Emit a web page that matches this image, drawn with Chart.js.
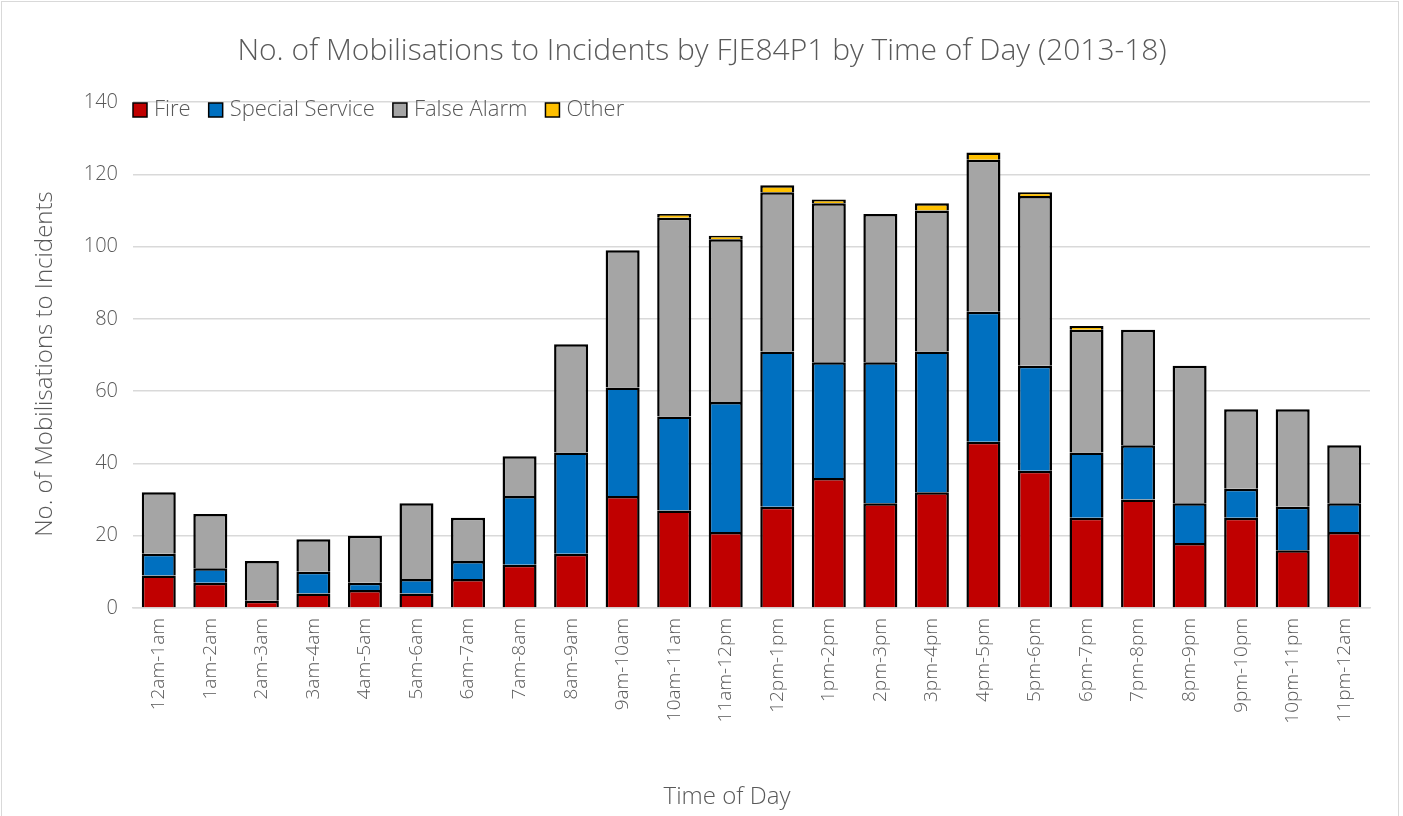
<!DOCTYPE html>
<html>
<head>
<meta charset="utf-8">
<script src="https://cdn.jsdelivr.net/npm/chart.js@4/dist/chart.umd.min.js"></script>
<style>
  html, body { margin: 0; padding: 0; background: #fff; }
  #wrap { width: 1403px; height: 816px; }
</style>
</head>
<body>
<div id="wrap"><canvas id="mobChart"></canvas></div>
<script>
// time bands along the x axis
var hours = ['12am-1am', '1am-2am', '2am-3am', '3am-4am', '4am-5am', '5am-6am', '6am-7am', '7am-8am',
  '8am-9am', '9am-10am', '10am-11am', '11am-12pm', '12pm-1pm', '1pm-2pm', '2pm-3pm', '3pm-4pm',
  '4pm-5pm', '5pm-6pm', '6pm-7pm', '7pm-8pm', '8pm-9pm', '9pm-10pm', '10pm-11pm', '11pm-12am'];

var fire =           [9, 7, 2, 4, 5, 4, 8, 12, 15, 31, 27, 21, 28, 36, 29, 32, 46, 38, 25, 30, 18, 25, 16, 21];
var specialService = [6, 4, 0, 6, 2, 4, 5, 19, 28, 30, 26, 36, 43, 32, 39, 39, 36, 29, 18, 15, 11, 8, 12, 8];
var falseAlarm =     [17, 15, 11, 9, 13, 21, 12, 11, 30, 38, 55, 45, 44, 44, 41, 39, 42, 47, 34, 32, 38, 22, 27, 16];
var other =          [0, 0, 0, 0, 0, 0, 0, 0, 0, 0, 1, 1, 2, 1, 0, 2, 2, 1, 1, 0, 0, 0, 0, 0];

var yTicks = [0, 20, 40, 60, 80, 100, 120, 140];

var chartTitle = 'No. of Mobilisations to Incidents by FJE84P1 by Time of Day (2013-18)';
var xTitle = 'Time of Day';
var yTitle = 'No. of Mobilisations to Incidents';

var grey = '#595959';
var fontName = '"Open Sans", "Noto Sans", sans-serif';

function ds(label, data, colour) {
  return {
    label: label,
    data: data,
    backgroundColor: colour,
    borderColor: '#000000',
    borderWidth: 2.5,
    barPercentage: 0.66,
    categoryPercentage: 1
  };
}

// legend sits inside the plot, like the spreadsheet one
var insideLegend = {
  id: 'insideLegend',
  afterDraw: function(chart) {
    var ctx = chart.ctx;
    var x = chart.chartArea.left;
    var y = 110;
    ctx.save();
    ctx.font = '300 22px ' + fontName;
    ctx.textBaseline = 'middle';
    chart.data.datasets.forEach(function(d) {
      ctx.fillStyle = d.backgroundColor;
      ctx.fillRect(x, y - 7, 14, 14);
      ctx.strokeStyle = '#000';
      ctx.lineWidth = 1.5;
      ctx.strokeRect(x, y - 7, 14, 14);
      ctx.fillStyle = grey;
      ctx.fillText(d.label, x + 21, y);
      x += 21 + ctx.measureText(d.label).width + 18;
    });
    ctx.restore();
  }
};

// titles, placed where the original has them
var titles = {
  id: 'titles',
  afterDraw: function(chart) {
    var ctx = chart.ctx;
    ctx.save();
    ctx.fillStyle = grey;
    ctx.textAlign = 'center';
    ctx.textBaseline = 'middle';
    ctx.font = '300 30px ' + fontName;
    ctx.fillText(chartTitle, 702, 51);
    ctx.font = '300 24px ' + fontName;
    ctx.fillText(xTitle, 727, 797);
    ctx.translate(45, 364);
    ctx.rotate(-Math.PI / 2);
    ctx.fillText(yTitle, 0, 0);
    ctx.restore();
  }
};

var frame = {
  id: 'frame',
  beforeDraw: function(chart) {
    var ctx = chart.ctx;
    ctx.save();
    ctx.fillStyle = '#fff';
    ctx.fillRect(0, 0, chart.width, chart.height);
    ctx.strokeStyle = '#d9d9d9';
    ctx.lineWidth = 1;
    ctx.strokeRect(1.5, 1.5, 1397, 840);
    ctx.restore();
  }
};

var ctx = document.getElementById('mobChart').getContext('2d');
var mobChart = new Chart(ctx, {
  type: 'bar',
  data: {
    labels: hours,
    datasets: [
      ds('Fire', fire, '#C00000'),
      ds('Special Service', specialService, '#0070C0'),
      ds('False Alarm', falseAlarm, '#A5A5A5'),
      ds('Other', other, '#FFC000')
    ]
  },
  plugins: [frame, insideLegend, titles],
  options: {
    responsive: true,
    maintainAspectRatio: false,
    animation: false,
    layout: { padding: { left: 2, right: 33, top: 102, bottom: 0 } },
    plugins: {
      legend: { display: false },
      tooltip: { enabled: false },
      title: { display: false }
    },
    scales: {
      x: {
        stacked: true,
        grid: { display: false, drawTicks: false },
        border: { display: true, color: '#d9d9d9', width: 1.5 },
        ticks: {
          color: grey,
          font: { family: fontName, size: 19, weight: '300' },
          minRotation: 90,
          maxRotation: 90,
          padding: 10,
          autoSkip: false
        },
        afterFit: function(scale) { scale.height = 208; }
      },
      y: {
        stacked: true,
        min: 0,
        max: 140,
        grid: { color: '#d9d9d9', lineWidth: 1.5, drawTicks: false },
        border: { display: false },
        afterBuildTicks: function(scale) {
          scale.ticks = yTicks.map(function(v) { return { value: v }; });
        },
        ticks: {
          color: grey,
          font: { family: fontName, size: 20, weight: '300' },
          padding: 15
        },
        afterFit: function(scale) { scale.width = 131; }
      }
    }
  }
});
</script>
</body>
</html>
